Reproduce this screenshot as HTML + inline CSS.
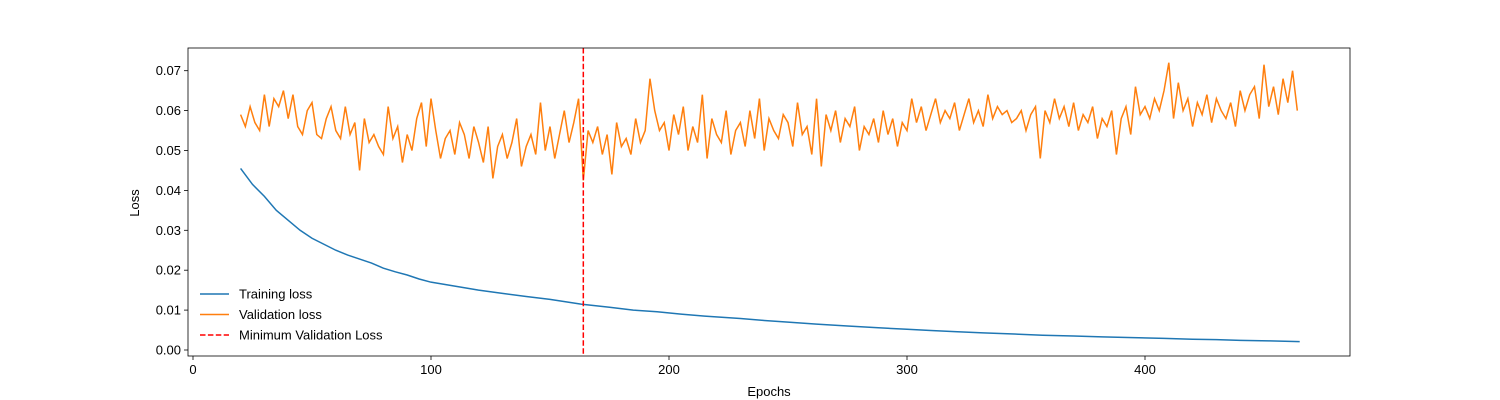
<!DOCTYPE html>
<html><head><meta charset="utf-8">
<style>
html,body{margin:0;padding:0;background:#fff;}
svg{display:block;font-family:"Liberation Sans","DejaVu Sans",sans-serif;}
</style></head>
<body>
<svg id="chart" width="1500" height="400"></svg>
<script>
const xTicks=[0,100,200,300,400];
const yTicks=[0.00,0.01,0.02,0.03,0.04,0.05,0.06,0.07];
const yTickLabels=["0.00","0.01","0.02","0.03","0.04","0.05","0.06","0.07"];
const trainEpochs=[20,25,30,35,40,45,50,55,60,65,70,75,80,85,90,95,100,110,120,130,140,150,163,175,185,195,205,215,230,240,250,262,275,287,300,310,320,332,345,357,370,382,395,408,420,430,440,452,465];
const trainLoss=[0.0455,0.0415,0.0385,0.035,0.0325,0.030,0.028,0.0265,0.025,0.0238,0.0228,0.0218,0.0205,0.0196,0.0188,0.0178,0.0170,0.0160,0.0150,0.0142,0.0134,0.0127,0.0115,0.0107,0.0100,0.0096,0.0090,0.0085,0.0079,0.0074,0.0070,0.0065,0.0060,0.0056,0.0052,0.0049,0.0046,0.0043,0.0040,0.0037,0.0035,0.0033,0.0031,0.0029,0.0027,0.0026,0.0024,0.0023,0.0021];
const valStart=20, valStep=2;
const valLoss=[.059,.056,.061,.057,.055,.064,.056,.063,.061,.065,.058,.064,.056,.054,.060,.062,.054,.053,.058,.061,.055,
.053,.061,.054,.057,.045,.058,.052,.054,.051,.049,.061,.053,.056,.047,.054,.050,.058,.062,.051,.063,
.055,.048,.053,.055,.049,.057,.054,.048,.056,.052,.047,.056,.043,.051,.054,.048,.052,.058,.046,.051,.054,.049,.062,.050,.056,.048,.054,.060,.052,.057,
.063,.0425,.055,.052,.056,.049,.054,.044,.057,.051,.053,.049,.058,.052,.055,.068,.060,.055,.057,.050,
.059,.054,.061,.050,.056,.052,.064,.048,.058,.054,.052,.060,.049,.055,.057,.051,.060,.053,.063,.050,.058,.055,.053,.059,.057,.051,.062,.054,.056,.049,
.063,.046,.059,.055,.060,.052,.058,.056,.061,.050,.056,.054,.058,.052,.060,.054,.058,.051,.057,.055,
.063,.057,.061,.055,.059,.063,.057,.060,.058,.062,.055,.059,.063,.057,.060,.056,.064,.058,.061,.059,.060,.057,.058,.060,.055,.059,.061,.048,.060,.057,
.063,.058,.061,.056,.062,.055,.059,.057,.061,.053,.058,.056,.060,.049,.058,.061,.054,.066,.059,.061,
.058,.063,.060,.065,.072,.058,.067,.060,.063,.056,.062,.059,.064,.057,.063,.060,.058,.062,.056,.065,.060,.064,.066,.058,.0715,.061,.066,.059,.068,.062,.070,.060];
const minEpoch=164;

const NS="http://www.w3.org/2000/svg";
const svg=document.getElementById('chart');
const L=188,R=1350,T=48,B=356;
const X=v=>193+v*2.38;
const Y=v=>350-v*3990;
function mk(tag,attrs,parent){const e=document.createElementNS(NS,tag);for(const k in attrs)e.setAttribute(k,attrs[k]);(parent||svg).appendChild(e);return e;}

// ticks
xTicks.forEach(t=>{
  const g=mk('g',{});
  
  
  mk('line',{x1:X(t),x2:X(t),y1:B,y2:B+4,stroke:'#000','stroke-width':0.8},g);
  const tx=mk('text',{x:X(t),y:B+18,'text-anchor':'middle','font-size':13},g);tx.textContent=t;
});
yTicks.forEach((t,i)=>{
  const g=mk('g',{});
  
  
  mk('line',{x1:L-4,x2:L,y1:Y(t),y2:Y(t),stroke:'#000','stroke-width':0.8},g);
  const tx=mk('text',{x:L-7,y:Y(t)+4.5,'text-anchor':'end','font-size':13},g);tx.textContent=yTickLabels[i];
});

// series
const tp=mk('polyline',{points:trainEpochs.map((e,i)=>X(e)+','+Y(trainLoss[i])).join(' '),fill:'none',stroke:'#1f77b4','stroke-width':1.5});


const vp=mk('polyline',{points:valLoss.map((v,i)=>X(valStart+i*valStep)+','+Y(v)).join(' '),fill:'none',stroke:'#ff7f0e','stroke-width':1.5});


const ml=mk('line',{x1:X(minEpoch),x2:X(minEpoch),y1:T,y2:B,stroke:'#ff0000','stroke-width':1.5,'stroke-dasharray':'5.5,2.4'});



// frame
const fr=mk('rect',{x:L,y:T,width:R-L,height:B-T,fill:'none',stroke:'#000','stroke-width':0.8});



// axis titles
const xt=mk('text',{x:(L+R)/2,y:396,'text-anchor':'middle','font-size':13});xt.textContent='Epochs';


const yt=mk('text',{x:0,y:0,'text-anchor':'middle','font-size':13,transform:'translate(139,203) rotate(-90)'});yt.textContent='Loss';



// legend
const legendItems=[['Training loss','#1f77b4',null],['Validation loss','#ff7f0e',null],['Minimum Validation Loss','#ff0000','5.5,2.4']];
legendItems.forEach((it,i)=>{
  const y=294+i*20.5;
  const g=mk('g',{});
  
  
  const a={x1:200,x2:229,y1:y,y2:y,stroke:it[1],'stroke-width':1.5};
  if(it[2])a['stroke-dasharray']=it[2];
  mk('line',a,g);
  const tx=mk('text',{x:239,y:y+4.5,'font-size':13},g);tx.textContent=it[0];
});
</script>
</body></html>
